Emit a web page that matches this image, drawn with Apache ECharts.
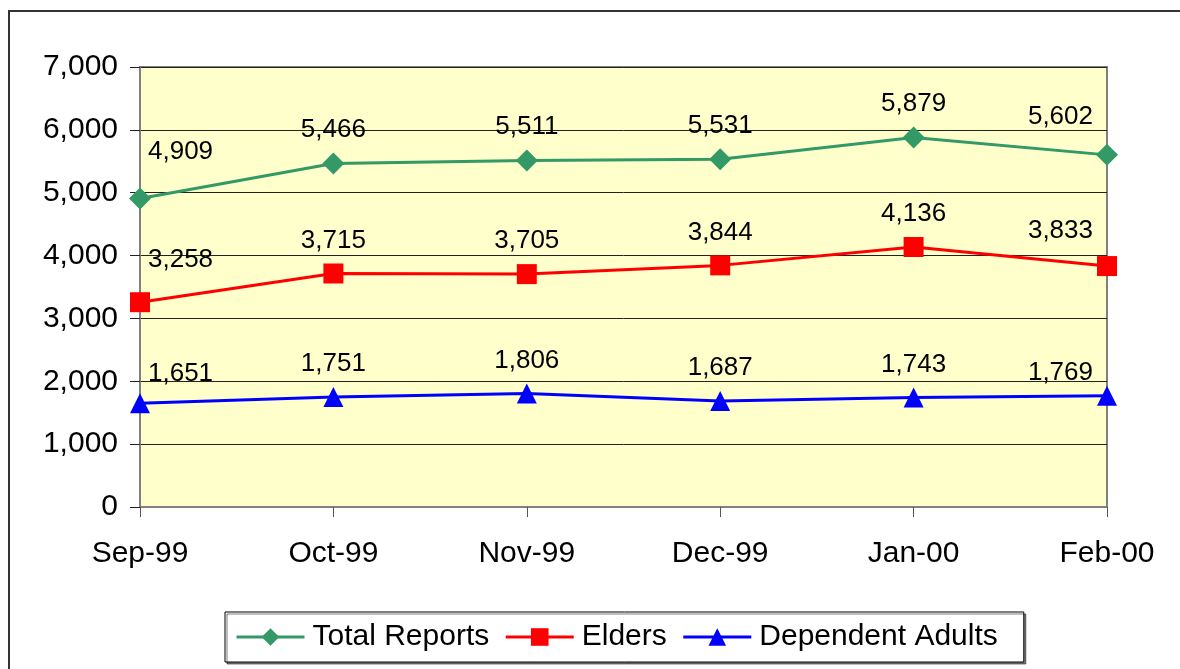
<!DOCTYPE html>
<html>
<head>
<meta charset="utf-8">
<script src="https://cdn.jsdelivr.net/npm/echarts@6/dist/echarts.min.js"></script>
<style>
  html, body { margin: 0; padding: 0; background: #fff; }
  #main { width: 1180px; height: 669px; }
</style>
</head>
<body>
<div id="main"></div>
<script>
// chart data
var months = ['Sep-99', 'Oct-99', 'Nov-99', 'Dec-99', 'Jan-00', 'Feb-00'];
var totalReports = [4909, 5466, 5511, 5531, 5879, 5602];
var elders = [3258, 3715, 3705, 3844, 4136, 3833];
var dependentAdults = [1651, 1751, 1806, 1687, 1743, 1769];
var yTicks = [0, 1000, 2000, 3000, 4000, 5000, 6000, 7000];

var font = '"Liberation Sans", Arial, sans-serif';

var myChart = echarts.init(document.getElementById('main'));

function fmt(v) {
    return v.toLocaleString('en-US');
}

// first label sits to the right of the point, last one to the left
function withLabels(values, firstDy, lastDy) {
    var out = [];
    for (var i = 0; i < values.length; i++) {
        var item = { value: values[i] };
        if (i == 0) {
            item.label = { align: 'left', offset: [8, firstDy] };
        } else if (i == values.length - 1) {
            item.label = { align: 'right', offset: [-14, lastDy] };
        }
        out.push(item);
    }
    return out;
}

function makeSeries(name, values, color, symbol, size, firstDy, lastDy) {
    return {
        name: name,
        type: 'line',
        data: withLabels(values, firstDy, lastDy),
        symbol: symbol,
        symbolSize: size,
        showAllSymbol: true,
        lineStyle: { color: color, width: 3 },
        itemStyle: { color: color },
        label: {
            show: true,
            position: 'top',
            distance: 10,
            color: '#000',
            fontSize: 26,
            fontFamily: font,
            formatter: function (p) { return fmt(p.value); }
        },
        emphasis: { disabled: true },
        animation: false
    };
}

var option = {
    backgroundColor: '#fff',
    grid: {
        left: 140,
        right: 73,
        top: 67,
        bottom: 162,
        show: true,
        backgroundColor: '#FFFFCC',
        borderColor: '#808080',
        borderWidth: 2
    },
    graphic: [{
        type: 'rect',
        shape: { x: 9, y: 11, width: 1200, height: 700 },
        style: { fill: 'none', stroke: '#333', lineWidth: 2 },
        silent: true
    }],
    legend: {
        left: 225,
        top: 612,
        padding: [10, 26, 10, 10],
        itemGap: 15,
        itemWidth: 68,
        itemHeight: 22,
        borderColor: '#000',
        borderWidth: 1,
        backgroundColor: '#fff',
        shadowColor: 'rgba(0,0,0,0.5)',
        shadowOffsetX: 2,
        shadowOffsetY: 2,
        lineStyle: { width: 3 },
        textStyle: { fontSize: 30, fontFamily: font, color: '#000', padding: [0, 0, 0, 3] },
        data: ['Total Reports', 'Elders', 'Dependent Adults']
    },
    xAxis: {
        type: 'category',
        data: months,
        boundaryGap: false,
        axisLine: { show: true, lineStyle: { color: '#808080', width: 2 } },
        axisTick: { show: true, length: 10, lineStyle: { color: '#555' } },
        axisLabel: { fontSize: 30, fontFamily: font, color: '#000', margin: 32 },
        splitLine: { show: false }
    },
    yAxis: {
        type: 'value',
        min: yTicks[0],
        max: yTicks[yTicks.length - 1],
        interval: 1000,
        axisLine: { show: true, lineStyle: { color: '#808080', width: 2 } },
        axisTick: { show: true, length: 10, lineStyle: { color: '#222' } },
        axisLabel: {
            fontSize: 30,
            fontFamily: font,
            color: '#000',
            margin: 22,
            formatter: function (v) { return fmt(v); }
        },
        splitLine: { show: true, lineStyle: { color: '#222', width: 1 } }
    },
    series: [
        makeSeries('Total Reports', totalReports, '#339966', 'diamond', 22, -13, -4),
        makeSeries('Elders', elders, '#FF0000', 'rect', 20, -9, -2),
        makeSeries('Dependent Adults', dependentAdults, '#0000FF', 'triangle', 20, 4, 10)
    ]
};

myChart.setOption(option);
window.onresize = function () {
    myChart.resize();
};
</script>
</body>
</html>
